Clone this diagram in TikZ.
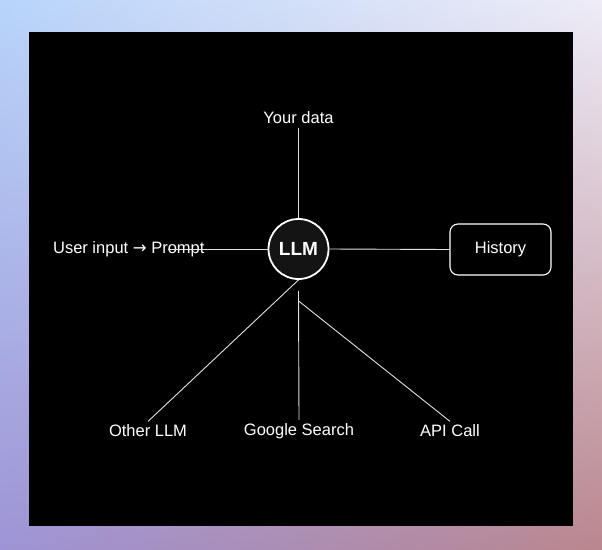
\documentclass[tikz,border=0pt]{standalone}
\usepackage{fontspec}
\setmainfont{Liberation Sans}
\newfontfamily\arrowfont{DejaVu Sans}
\usetikzlibrary{positioning, shadings}
\definecolor{bgtopleft}{RGB}{184,212,250}
\definecolor{bgtopright}{RGB}{238,236,247}
\definecolor{bgbotleft}{RGB}{158,148,214}
\definecolor{bgbotright}{RGB}{186,134,142}
\definecolor{wirewhite}{RGB}{225,225,225}

\begin{document}
\begin{tikzpicture}[x=1pt, y=-1pt,
    itemtext/.style={text=white, font=\fontsize{16.5}{19}\selectfont},
    link/.style={draw=wirewhite, line width=0.9pt}]
  % background
  \shade[upper left=bgtopleft, upper right=bgtopright, lower left=bgbotleft, lower right=bgbotright] (0,0) rectangle (602,549);
  \fill[black] (29,32) rectangle (573,526);

  \node[circle, draw=white, line width=1.8pt, fill=black!92, minimum size=60pt, inner sep=0pt,
        text=white, font=\bfseries\fontsize{19}{22}\selectfont] (llm) at (298.5,249) {LLM};
  \node[itemtext] (data) at (298.5,118) {Your data};
  \node[itemtext, anchor=east] (user) at (208,249) {User input {\arrowfont →} Prompt};
  \node[itemtext, draw=white, line width=1.1pt, rounded corners=8pt, minimum width=101pt, minimum height=51pt] (history) at (500.5,249.5) {History};
  \node[itemtext] (other) at (148,431) {Other LLM};
  \node[itemtext] (google) at (299,431) {Google Search};
  \node[itemtext] (api) at (450,431) {API Call};

  \coordinate[below=11pt of llm.south] (gstart);
  \coordinate[below=21pt of llm.south] (astart);

  \draw[link] (llm.north) -- (data.south);
  \draw[link] (llm.west) -- ([xshift=-40pt]user.east);
  \draw[link] (llm.east) -- (history.west);
  \draw[link] (llm.south) -- (other.north);
  \draw[link] (gstart) -- (google.north);
  \draw[link] (astart) -- (api.north);
\end{tikzpicture}
\end{document}
